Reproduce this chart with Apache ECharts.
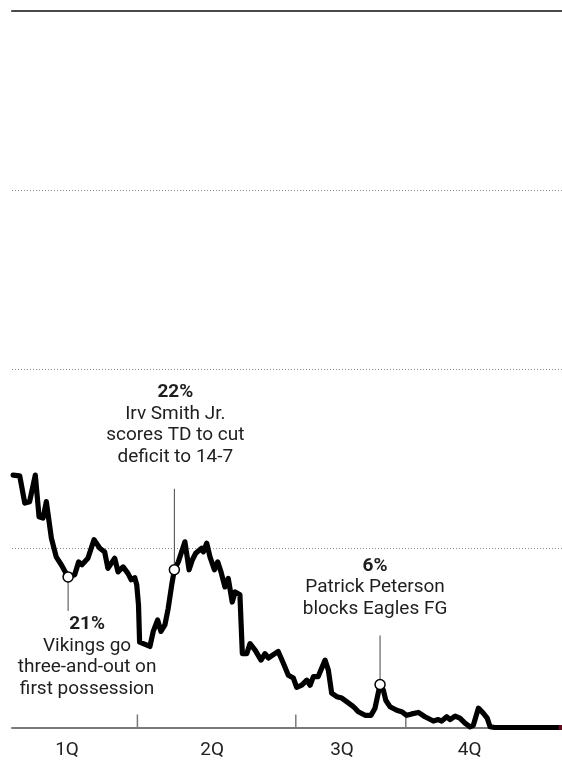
<!DOCTYPE html>
<html><head><meta charset="utf-8">
<script src="https://cdn.jsdelivr.net/npm/echarts@6/dist/echarts.min.js"></script>
<style>html,body{margin:0;padding:0;background:#fff}#c{width:562px;height:764px}</style>
</head><body><div id="c"></div>
<script>
const playIndex = [0.5,3.5,5.8,8.0,10.6,12.3,14.1,15.6,17.1,17.9,
  20.1,22.4,25.5,28.5,30.3,31.8,34.5,37.3,39.9,42.1,
  43.6,46.7,48.2,50.5,52.7,54.2,55.8,56.7,57.5,58.0,
  59.7,62.7,64.2,66.2,67.7,69.5,71.0,72.6,73.8,75.6,
  78.6,80.5,82.0,83.5,86.2,87.0,88.5,90.0,92.0,93.5,
  95.0,96.8,98.3,100.1,101.4,103.6,104.7,106.7,108.2,110.5,
  113.2,115.0,116.5,117.3,119.5,121.0,123.3,125.6,127.9,129.4,
  131.7,134.0,135.5,137.0,139.2,142.3,143.8,145.3,147.6,149.9,
  152.1,154.4,155.9,157.4,160.5,163.2,165.0,167.3,168.8,169.9,
  171.8,174.9,177.1,179.4,181.7,184.7,187.7,191.5,193.8,195.3,
  197.6,199.1,201.4,203.6,205.9,208.2,209.7,212.0,214.2,216.0,
  217.3,219.5,250];
const winProb = [35.2,35.1,31.3,31.5,35.2,29.4,29.2,31.5,28.2,26.4,
  23.8,22.7,21,21.3,23.1,22.7,23.6,26.2,25.0,24.5,
  22.2,23.6,21.7,22.4,21.5,20.6,20.9,19.9,17.1,11.9,
  11.7,11.3,13.4,15.0,13.4,14.3,16.6,19.9,22,23.1,
  25.9,22.0,23.4,24.3,25.0,24.5,25.7,23.8,22.0,23.1,
  21.7,19.6,20.8,17.5,18.9,18.5,10.3,10.3,11.7,10.8,
  9.4,10.3,9.7,9.7,10.3,10.6,9.0,7.3,6.9,5.6,
  5.9,6.6,5.9,7.1,7.1,9.4,8.0,4.8,4.3,4.1,
  3.6,3.1,2.7,2.2,1.7,1.7,2.7,6,5.2,3.8,
  2.9,2.4,2.2,1.7,1.9,2.1,1.5,0.9,1.1,0.9,
  1.5,1.1,1.6,1.3,0.6,0.1,0.3,2.7,2.0,1.3,
  0.1,0,0];
const finalPlays = [248.5, 250];
const finalProb = [0, 0];
const quarterEnds = [57, 129, 179];
const quarterLabels = ['1Q', '2Q', '3Q', '4Q'];
const quarterLabelPlay = [25, 91, 150, 208];
const notePlay = [25.5, 73.8, 167.3];
const noteProb = [21, 22, 6];
const noteHead = ['21%', '22%', '6%'];
const noteText = [
  ['Vikings go', 'three-and-out on', 'first possession'],
  ['Irv Smith Jr.', 'scores TD to cut', 'deficit to 14-7'],
  ['Patrick Peterson', 'blocks Eagles FG']
];
const yTicks = [0, 25, 50, 75, 100];

// layout of annotation blocks relative to their point (pixels)
const noteLayout = [
  {dx: 19, leader: 34, first: 54},
  {dx: 1, leader: -81, first: -171},
  {dx: -5, leader: -49, first: -112}
];
const FONT = 'Roboto, "Noto Sans", sans-serif';
const LH = 21.5;

const chart = echarts.init(document.getElementById('c'), null, {renderer: 'canvas'});
chart.setOption({
  animation: false,
  grid: {left: 12, right: 0, top: 10.5, bottom: 36.5},
  xAxis: [{
    type: 'value', min: 0, max: 250,
    axisLine: {show: true, onZero: false, lineStyle: {color: '#7a7a7a', width: 2}},
    axisTick: {show: false}, axisLabel: {show: false}, splitLine: {show: false}
  }, {
    type: 'value', min: 0, max: 250, position: 'top',
    axisLine: {show: true, onZero: false, lineStyle: {color: '#4a4a4a', width: 2}},
    axisTick: {show: false}, axisLabel: {show: false}, splitLine: {show: false}
  }],
  yAxis: {
    type: 'value', min: yTicks[0], max: yTicks[yTicks.length - 1], interval: 25,
    axisLine: {show: false}, axisTick: {show: false}, axisLabel: {show: false},
    splitLine: {show: true, lineStyle: {color: '#8a8a8a', width: 1, type: [1, 2]}}
  },
  series: [
    {
      type: 'custom', z: 2,
      data: quarterEnds.map(q => [q, 0]),
      renderItem: (params, api) => {
        const p = api.coord([api.value(0), 0]);
        return {type: 'line', shape: {x1: p[0], y1: p[1], x2: p[0], y2: p[1] - 13},
          style: {stroke: '#7a7a7a', lineWidth: 1.5}};
      }
    },
    {
      type: 'custom', z: 2,
      data: quarterLabelPlay.map((q, i) => [q, 0, i]),
      renderItem: (params, api) => {
        const p = api.coord([api.value(0), 0]);
        return {type: 'text', x: p[0], y: p[1] + 22.5,
          style: {text: quarterLabels[api.value(2)], font: '19px ' + FONT, fill: '#222',
            align: 'center', verticalAlign: 'middle'}};
      }
    },
    {
      type: 'line', z: 3, showSymbol: false, symbol: 'none',
      data: playIndex.map((x, i) => [x, winProb[i]]),
      lineStyle: {color: '#000', width: 5.2, join: 'round', cap: 'round'}
    },
    {
      type: 'line', z: 4, showSymbol: false, symbol: 'none',
      data: finalPlays.map((x, i) => [x, finalProb[i]]),
      lineStyle: {color: '#5e0e1c', width: 5}
    },
    {
      type: 'custom', z: 5,
      data: notePlay.map((x, i) => [x, noteProb[i], i]),
      renderItem: (params, api) => {
        const i = api.value(2);
        const p = api.coord([api.value(0), api.value(1)]);
        const L = noteLayout[i];
        const children = [];
        children.push({type: 'line', shape: {x1: p[0], y1: p[1], x2: p[0], y2: p[1] + L.leader},
          style: {stroke: '#444', lineWidth: 1}});
        children.push({type: 'circle', shape: {cx: p[0], cy: p[1], r: 5},
          style: {fill: '#fff', stroke: '#000', lineWidth: 1.5}});
        const lines = [noteHead[i]].concat(noteText[i]);
        lines.forEach((t, k) => {
          children.push({type: 'text', x: p[0] + L.dx, y: p[1] + L.first + k * LH - 6.5,
            style: {text: t, font: (k === 0 ? 'bold ' : '') + '19px ' + FONT, fill: '#1e1e1e',
              align: 'center', verticalAlign: 'middle'}});
        });
        return {type: 'group', children};
      }
    }
  ]
});
</script></body></html>
